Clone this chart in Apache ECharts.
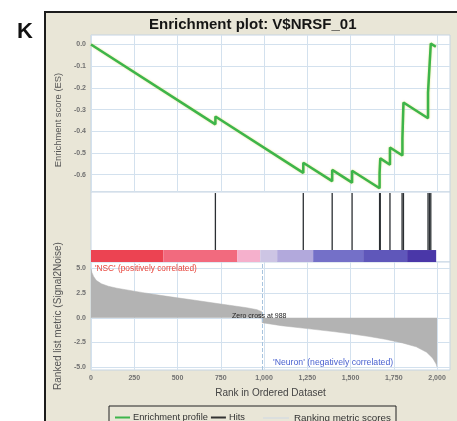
<!DOCTYPE html>
<html><head><meta charset="utf-8">
<script src="https://cdn.jsdelivr.net/npm/echarts@6/dist/echarts.min.js"></script>
<style>html,body{margin:0;padding:0;background:#fff;}#c{width:457px;height:421px;}</style>
</head><body><div id="c"></div>
<script>
// ---- data ----
const esRank  = [0, 719, 719, 1227, 1227, 1394, 1394, 1509, 1509, 1668, 1668, 1672, 1672, 1728, 1728, 1800, 1800, 1806, 1806, 1948, 1948, 1956, 1956, 1964, 1964, 1993];
const esValue = [0, -0.368, -0.332, -0.592, -0.545, -0.630, -0.578, -0.637, -0.582, -0.663, -0.594, -0.597, -0.525, -0.554, -0.475, -0.512, -0.432, -0.435, -0.267, -0.340, -0.222, -0.226, -0.108, -0.112, 0.004, -0.010];
const hitRanks = [719, 1227, 1394, 1509, 1668, 1672, 1728, 1798, 1806, 1948, 1956, 1964];
const metricRank  = [0, 5, 15, 30, 60, 100, 150, 200, 300, 400, 500, 600, 700, 800, 900, 960, 987, 989, 1000, 1100, 1250, 1400, 1500, 1600, 1700, 1800, 1880, 1940, 1975, 1995, 2000];
const metricValue = [5.0, 4.6, 4.2, 3.8, 3.45, 3.2, 3.0, 2.85, 2.55, 2.28, 2.02, 1.78, 1.52, 1.27, 1.02, 0.82, 0.6, -0.5, -0.58, -0.8, -1.1, -1.4, -1.62, -1.88, -2.18, -2.55, -2.95, -3.5, -4.1, -4.7, -5.0];
const zeroCross = 988;
const colorBarStops  = [0, 418, 846, 978, 1076, 1284, 1573, 1827, 1995];
const colorBarColors = ['#ec4352', '#f26a7e', '#f5b0cc', '#cdc5e4', '#b2a9dc', '#7470c8', '#5f57ba', '#4a37a8'];
const esTicks = [0, -0.1, -0.2, -0.3, -0.4, -0.5, -0.6];
const metricTicks = [5, 2.5, 0, -2.5, -5];
const rankTicks = [0, 250, 500, 750, 1000, 1250, 1500, 1750, 2000];

const FONT = 'Liberation Sans, Arial, sans-serif';
const GRIDLINE = '#d3e1ee';
const chart = echarts.init(document.getElementById('c'));

const colorSegments = colorBarColors.map((c, i) => [colorBarStops[i], colorBarStops[i + 1], i]);
const CB_TOP = 0.171, HIT_TOP = 0.985;

const labelStyle = { fontSize: 7, color: '#707070', fontFamily: FONT, fontWeight: 'bold' };

chart.setOption({
  animation: false,
  textStyle: { fontFamily: FONT },
  title: {
    text: 'Enrichment plot: V$NRSF_01', left: 144, top: 12,
    textStyle: { fontSize: 15, fontWeight: 'bold', color: '#151515', fontFamily: FONT }
  },
  graphic: [
    { type: 'rect', z: -10, shape: { x: 45, y: 12, width: 440, height: 440 },
      style: { fill: '#e9e6d7', stroke: '#1c1c1c', lineWidth: 2 } },
    { type: 'text', x: 17, y: 21, style: { text: 'K', font: 'bold 22px ' + FONT, fill: '#111' } },
    { type: 'rect', shape: { x: 109, y: 406, width: 287, height: 20 },
      style: { fill: 'none', stroke: '#222', lineWidth: 1 } },
    { type: 'text', x: 95, y: 265, z: 50, style: { text: "'NSC' (positively correlated)", font: '8.3px ' + FONT, fill: '#e8453c' } },
    { type: 'text', x: 273, y: 358, z: 50, style: { text: "'Neuron' (negatively correlated)", font: '8.7px ' + FONT, fill: '#4a62d0' } },
    { type: 'text', x: 232, y: 313, z: 50, style: { text: 'Zero cross at ' + zeroCross, font: '7px ' + FONT, fill: '#222' } }
  ],
  legend: [
    { left: 110, top: 408, itemGap: 3, itemWidth: 15, itemHeight: 2, selectedMode: false,
      textStyle: { fontSize: 9.3, color: '#333', padding: [0, 0, 0, -2] },
      data: [
        { name: 'Enrichment profile', icon: 'rect', itemStyle: { color: '#3db54a' } },
        { name: 'Hits', icon: 'rect', itemStyle: { color: '#333' } }
      ] },
    { left: 258, top: 408, itemWidth: 26, itemHeight: 1, selectedMode: false,
      textStyle: { fontSize: 9.8, color: '#333' },
      data: [{ name: 'Ranking metric scores', icon: 'rect', itemStyle: { color: '#cdd8e4' } }] }
  ],
  grid: [
    { left: 91, top: 35, width: 359, height: 157, show: true, backgroundColor: '#fff', borderColor: '#c5d4e3', borderWidth: 1 },
    { left: 91, top: 192, width: 359, height: 70, show: true, backgroundColor: '#fff', borderColor: '#c5d4e3', borderWidth: 1 },
    { left: 91, top: 262, width: 359, height: 108, show: true, backgroundColor: '#fff', borderColor: '#c5d4e3', borderWidth: 1 }
  ],
  xAxis: [
    { gridIndex: 0, type: 'value', min: 0, max: 2075,
      axisLabel: { show: false }, axisTick: { show: false, customValues: rankTicks }, axisLine: { show: false },
      splitLine: { show: true, lineStyle: { color: GRIDLINE, width: 1 } } },
    { gridIndex: 1, type: 'value', min: 0, max: 2075, show: false },
    { gridIndex: 2, type: 'value', min: 0, max: 2075,
      axisLabel: Object.assign({ customValues: rankTicks, margin: 5, formatter: v => v.toLocaleString('en-US') }, labelStyle),
      axisTick: { show: false, customValues: rankTicks }, axisLine: { show: false },
      splitLine: { show: true, lineStyle: { color: GRIDLINE, width: 1 } },
      name: 'Rank in Ordered Dataset', nameLocation: 'middle', nameGap: 18,
      nameTextStyle: { fontSize: 10, color: '#444', fontFamily: FONT } }
  ],
  yAxis: [
    { gridIndex: 0, type: 'value', min: -0.68, max: 0.044,
      axisLabel: Object.assign({ customValues: esTicks, margin: 5, formatter: v => v.toFixed(1) }, labelStyle),
      axisTick: { show: false, customValues: esTicks }, axisLine: { show: false },
      splitLine: { show: true, lineStyle: { color: GRIDLINE, width: 1 } },
      name: 'Enrichment score (ES)', nameLocation: 'middle', nameGap: 24, nameRotate: 90,
      nameTextStyle: { fontSize: 9.4, color: '#555', fontFamily: FONT, padding: [0, 13, 0, 0] } },
    { gridIndex: 1, type: 'value', min: 0, max: 1, show: false },
    { gridIndex: 2, type: 'value', min: -5.3, max: 5.66,
      axisLabel: Object.assign({ customValues: metricTicks, margin: 5, formatter: v => v.toFixed(1) }, labelStyle),
      axisTick: { show: false, customValues: metricTicks }, axisLine: { show: false },
      splitLine: { show: true, lineStyle: { color: GRIDLINE, width: 1 } },
      name: 'Ranked list metric (Signal2Noise)', nameLocation: 'middle', nameGap: 24, nameRotate: 90,
      nameTextStyle: { fontSize: 10, color: '#555', fontFamily: FONT } }
  ],
  series: [
    { name: 'Enrichment profile', type: 'line', xAxisIndex: 0, yAxisIndex: 0, z: 5,
      data: esRank.map((r, i) => [r, esValue[i]]), showSymbol: false, symbol: 'none',
      lineStyle: { color: '#3db54a', width: 2.5, shadowColor: 'rgba(215,215,90,0.7)', shadowBlur: 2 } },
    { name: 'Hits', type: 'custom', xAxisIndex: 1, yAxisIndex: 1, z: 4,
      data: hitRanks.map(r => [r]), encode: { x: 0 },
      renderItem: (params, api) => {
        const x = api.coord([api.value(0), 0])[0];
        const y0 = api.coord([0, HIT_TOP])[1];
        const y1 = api.coord([0, CB_TOP])[1];
        return { type: 'line', shape: { x1: x, y1: y0, x2: x, y2: y1 }, style: { stroke: '#2b2f33', lineWidth: 1.3 } };
      } },
    { name: 'colorbar', type: 'custom', xAxisIndex: 1, yAxisIndex: 1, z: 3,
      data: colorSegments, encode: { x: [0, 1] },
      renderItem: (params, api) => {
        const p0 = api.coord([api.value(0), CB_TOP]);
        const p1 = api.coord([api.value(1), 0]);
        return { type: 'rect', shape: { x: p0[0], y: p0[1], width: p1[0] - p0[0], height: p1[1] - p0[1] },
                 style: { fill: colorBarColors[api.value(2)] } };
      } },
    { name: 'Ranking metric scores', type: 'line', xAxisIndex: 2, yAxisIndex: 2, z: 3,
      data: metricRank.map((r, i) => [r, metricValue[i]]), showSymbol: false, symbol: 'none',
      lineStyle: { color: '#b0b0b0', width: 0.5 }, areaStyle: { color: '#b3b3b3', opacity: 1 },
      markLine: { silent: true, symbol: 'none', label: { show: false },
        lineStyle: { color: '#a8c4de', type: 'dashed', width: 1 },
        data: [{ xAxis: zeroCross }] } }
  ]
});
</script></body></html>
